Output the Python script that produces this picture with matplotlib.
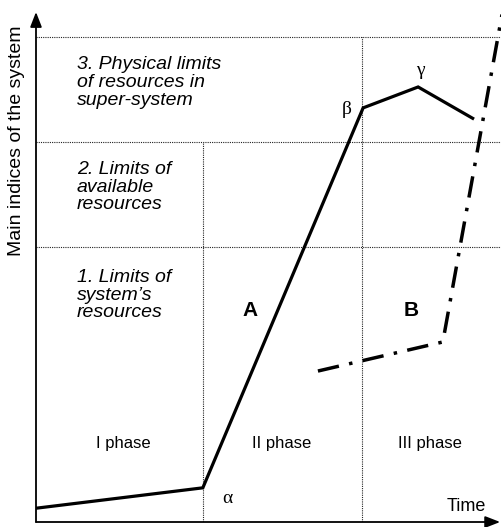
import matplotlib
matplotlib.use("Agg")
import matplotlib.pyplot as plt

# ---- data (axis units: 0..100 on both axes) ----
curve_a_t = [0, 35.8, 70.2, 82.0, 94.0]
curve_a_v = [2.7, 6.7, 81.2, 85.3, 79.0]
curve_b_t = [60.5, 87.3, 100.0]
curve_b_v = [29.6, 35.3, 99.5]
limit_levels = [54.0, 74.5, 95.0]
phase_bounds = [35.8, 70.0]
phase_labels = ["I phase", "II phase", "III phase"]
phase_centers = [18.7, 52.8, 84.5]
limit_texts = ["1. Limits of\nsystem\u2019s\nresources",
               "2. Limits of\navailable\nresources",
               "3. Physical limits\nof resources in\nsuper-system"]

plt.rcParams['font.family'] = ['Liberation Sans', 'DejaVu Sans']

fig = plt.figure(figsize=(5.02, 5.27), dpi=100)
W, H = 502, 527
ax = fig.add_axes([36 / W, (H - 522) / H, (502 - 36) / W, (522 - 12) / H])
ax.set_xlim(0, 100)
ax.set_ylim(0, 100)
for s in ax.spines.values():
    s.set_visible(False)
ax.set_xticks([])
ax.set_yticks([])

grid_kw = dict(color='#222222', lw=0.8, linestyle=(0, (1, 1)))
# horizontal limit lines
ax.plot([0, 100], [limit_levels[2]] * 2, **grid_kw, clip_on=False)
ax.plot([0, 100], [limit_levels[1]] * 2, **grid_kw, clip_on=False)
ax.plot([0, 100], [limit_levels[0]] * 2, **grid_kw, clip_on=False)
# vertical phase lines
ax.plot([phase_bounds[0]] * 2, [0, limit_levels[1]], **grid_kw)
ax.plot([phase_bounds[1]] * 2, [0, limit_levels[2]], **grid_kw)

# curves
ax.plot(curve_a_t, curve_a_v, color='black', lw=2.3, solid_joinstyle='miter',
        solid_capstyle='butt')
ax.plot(curve_b_t, curve_b_v, color='black', lw=2.5,
        linestyle=(0, (6.2, 3.0, 1.0, 3.0)), dash_capstyle='butt', clip_on=False)

# axes arrows
arrow_kw = dict(arrowstyle='-|>,head_length=0.9,head_width=0.35', color='black', lw=1.3,
                shrinkA=0, shrinkB=0)
ax.annotate('', xy=(0, 100), xytext=(0, 0), arrowprops=arrow_kw, annotation_clip=False)
ax.annotate('', xy=(99.6, 0), xytext=(0, 0), arrowprops=arrow_kw, annotation_clip=False)

# texts
lim_y = [49.6, 70.8, 91.3]
for txt, y in zip(limit_texts, lim_y):
    ax.text(8.8, y, txt, fontsize=14, style='italic', ha='left', va='top',
            linespacing=1.05)

for lab, x in zip(phase_labels, phase_centers):
    ax.text(x, 15.3, lab, fontsize=12, ha='center', va='center')

ax.text(45.9, 41.4, 'A', fontsize=15, fontweight='bold', ha='center', va='center')
ax.text(80.5, 41.4, 'B', fontsize=15, fontweight='bold', ha='center', va='center')

ax.text(41.0, 4.7, '\u03b1', fontsize=14, family='Liberation Serif', ha='center', va='center')
ax.text(66.7, 80.8, '\u03b2', fontsize=14, family='Liberation Serif', ha='center', va='center')
ax.text(82.4, 88.6, '\u03b3', fontsize=14, family='Liberation Serif', ha='center', va='center')

ax.text(92.3, 3.0, 'Time', fontsize=13, ha='center', va='center')
fig.text(17 / W, 1 - 141 / H, 'Main indices of the system', fontsize=14,
         rotation=90, ha='center', va='center')

fig.savefig('out.png', dpi=100)
